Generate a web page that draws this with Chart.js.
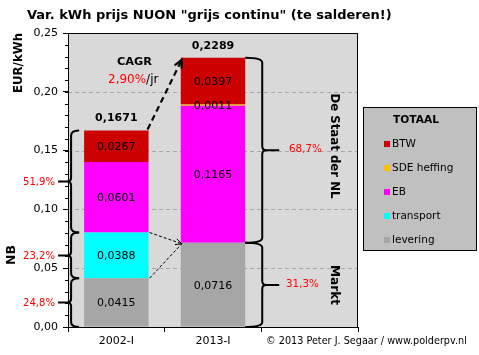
<!DOCTYPE html>
<html><head><meta charset="utf-8">
<script src="https://cdn.jsdelivr.net/npm/chart.js@4/dist/chart.umd.min.js"></script>
<style>html,body{margin:0;padding:0;background:#fff}#w{width:479px;height:355px}</style>
</head><body><div id="w"><canvas id="c" width="479" height="355"></canvas></div>
<script>
const categories = ['2002-I', '2013-I', ''];
const levering  = [0.0415, 0.0716, null];
const transport = [0.0388, 0,      null];
const eb        = [0.0601, 0.1165, null];
const sde       = [0,      0.0011, null];
const btw       = [0.0267, 0.0397, null];
const totals    = [0.1671, 0.2289];
const leftShares  = ['24,8%', '23,2%', '51,9%'];
const rightShares = ['31,3%', '68,7%'];
const cagr = '2,90%';
const seriesNames = ['levering', 'transport', 'EB', 'SDE heffing', 'BTW'];
const seriesColors = ['#a6a6a6', '#00ffff', '#ff00ff', '#ffc000', '#cc0000'];

const FAM = '"DejaVu Sans", Verdana, sans-serif';
Chart.defaults.font.family = FAM;
Chart.defaults.color = '#000';

function fmt(v, d) { return v.toFixed(d).replace('.', ','); }
function fitText(ctx, text, weight, target, base) {
  ctx.font = weight + ' ' + base + 'px ' + FAM;
  const w = ctx.measureText(text).width;
  const s = base * target / w;
  ctx.font = weight + ' ' + s.toFixed(2) + 'px ' + FAM;
  return s;
}
function brace(ctx, x, y1, y2, dir, endLen, tipLen) {
  const mid = (y1 + y2) / 2, r = 5, r2 = 4;
  ctx.beginPath();
  ctx.moveTo(x - dir * endLen, y1);
  ctx.quadraticCurveTo(x, y1, x, y1 + r);
  ctx.lineTo(x, mid - r2);
  ctx.quadraticCurveTo(x, mid, x + dir * 4, mid);
  ctx.lineTo(x + dir * tipLen, mid);
  ctx.moveTo(x + dir * 4, mid);
  ctx.quadraticCurveTo(x, mid, x, mid + r2);
  ctx.lineTo(x, y2 - r);
  ctx.quadraticCurveTo(x, y2, x - dir * endLen, y2);
  ctx.stroke();
}
function arrow(ctx, x1, y1, x2, y2, lw, dash, head) {
  ctx.save();
  ctx.lineWidth = lw; ctx.strokeStyle = '#000';
  ctx.setLineDash(dash);
  ctx.beginPath(); ctx.moveTo(x1, y1); ctx.lineTo(x2, y2); ctx.stroke();
  ctx.setLineDash([]);
  const a = Math.atan2(y2 - y1, x2 - x1);
  ctx.beginPath();
  ctx.moveTo(x2 - head * Math.cos(a - 0.45), y2 - head * Math.sin(a - 0.45));
  ctx.lineTo(x2, y2);
  ctx.lineTo(x2 - head * Math.cos(a + 0.45), y2 - head * Math.sin(a + 0.45));
  ctx.stroke();
  ctx.restore();
}

const deco = {
  id: 'deco',
  beforeDraw(chart) {
    const {ctx, chartArea: a} = chart;
    ctx.save();
    ctx.fillStyle = '#fff'; ctx.fillRect(0, 0, chart.width, chart.height);
    ctx.fillStyle = '#d9d9d9'; ctx.fillRect(a.left, a.top, a.right - a.left, a.bottom - a.top);
    ctx.restore();
  },
  beforeDatasetsDraw(chart) {
    const {ctx, chartArea: a, scales: {y}} = chart;
    ctx.save();
    ctx.strokeStyle = '#a8a8a8'; ctx.lineWidth = 1; ctx.setLineDash([4, 3]);
    y.ticks.forEach(t => {
      if (t.value <= 0 || t.value >= 0.25) return;
      const py = Math.round(y.getPixelForValue(t.value)) + 0.5;
      ctx.beginPath(); ctx.moveTo(a.left, py); ctx.lineTo(a.right, py); ctx.stroke();
    });
    ctx.restore();
  },
  afterDatasetsDraw(chart) {
    const {ctx, chartArea: a, scales: {x, y}} = chart;
    ctx.save();
    ctx.strokeStyle = '#000'; ctx.lineWidth = 1;
    ctx.strokeRect(a.left + 0.5, a.top + 0.5, a.right - a.left - 1, a.bottom - a.top);
    for (let v = 0.01; v < 0.25; v += 0.01) {
      const py = Math.round(y.getPixelForValue(v)) + 0.5;
      ctx.beginPath(); ctx.moveTo(a.left - 3, py); ctx.lineTo(a.left, py); ctx.stroke();
    }
    ctx.textAlign = 'center'; ctx.textBaseline = 'middle';
    ctx.fillStyle = '#000';
    chart.data.datasets.forEach((ds, i) => {
      const meta = chart.getDatasetMeta(i);
      ds.data.forEach((v, j) => {
        if (!v) return;
        const el = meta.data[j];
        ctx.font = '11px ' + FAM;
        ctx.fillText(fmt(v, 4), el.x, (el.y + el.base) / 2 + 1);
      });
    });
    const top = chart.getDatasetMeta(4).data;
    totals.forEach((t, j) => {
      ctx.font = 'bold 11px ' + FAM;
      ctx.fillText(fmt(t, 4), top[j].x, y.getPixelForValue(t) - 12);
    });
    const b1 = chart.getDatasetMeta(0).data[0], b2 = chart.getDatasetMeta(0).data[1];
    const b1L = b1.x - b1.width / 2, b1R = b1.x + b1.width / 2;
    const b2L = b2.x - b2.width / 2, b2R = b2.x + b2.width / 2;
    const py = v => y.getPixelForValue(v);
    ctx.lineWidth = 2; ctx.strokeStyle = '#000';
    const lb = [0, levering[0], levering[0] + transport[0], totals[0]];
    const lx = b1L - 13;
    ctx.fillStyle = '#ff0000';
    ctx.textAlign = 'right';
    for (let k = 0; k < 3; k++) {
      brace(ctx, lx, py(lb[k + 1]), py(lb[k]), -1, 8, 13);
      fitText(ctx, leftShares[k], 'normal', 32, 11);
      ctx.fillText(leftShares[k], 55, (py(lb[k + 1]) + py(lb[k])) / 2 + 1);
    }
    const rb = [0, levering[1], totals[1]];
    const rx = b2R + 17;
    ctx.textAlign = 'left';
    const rlx = [286, 289];
    for (let k = 0; k < 2; k++) {
      brace(ctx, rx, py(rb[k + 1]), py(rb[k]), 1, 17, 17);
      fitText(ctx, rightShares[k], 'normal', 33, 11);
      ctx.fillText(rightShares[k], rlx[k], (py(rb[k + 1]) + py(rb[k])) / 2 - 1);
    }
    arrow(ctx, b1R - 1, py(totals[0]) - 1, b2L + 1, py(totals[1]) + 2, 2.2, [6, 4], 9);
    arrow(ctx, b1R + 1, py(levering[0] + transport[0]), b2L + 1, py(levering[1]) + 1, 1, [3, 2], 7);
    arrow(ctx, b1R + 1, py(levering[0]), b2L + 1, py(levering[1]) + 1, 1, [3, 2], 0.1);
    ctx.fillStyle = '#000'; ctx.textAlign = 'left';
    fitText(ctx, 'CAGR', 'bold', 35, 11);
    ctx.fillText('CAGR', 117, 62);
    ctx.font = '12px ' + FAM;
    ctx.fillStyle = '#ff0000';
    ctx.fillText(cagr, 108, 80);
    const cw = ctx.measureText(cagr).width;
    ctx.fillStyle = '#000';
    ctx.fillText('/jr', 108 + cw, 80);
    ctx.restore();
  },
  afterDraw(chart) {
    const {ctx} = chart;
    ctx.save();
    ctx.fillStyle = '#000';
    ctx.textBaseline = 'middle'; ctx.textAlign = 'left';
    fitText(ctx, 'Var. kWh prijs NUON "grijs continu" (te salderen!)', 'bold', 365, 13);
    ctx.fillText('Var. kWh prijs NUON "grijs continu" (te salderen!)', 27, 16);
    fitText(ctx, '\u00a9 2013 Peter J. Segaar / www.polderpv.nl', 'normal', 201, 10);
    ctx.fillText('\u00a9 2013 Peter J. Segaar / www.polderpv.nl', 266, 341);
    const rot = (t, cx, cy, ang, len, size) => {
      ctx.save(); ctx.translate(cx, cy); ctx.rotate(ang);
      ctx.textAlign = 'center';
      fitText(ctx, t, 'bold', len, size);
      ctx.fillText(t, 0, 0); ctx.restore();
    };
    rot('EUR/kWh', 19, 63, -Math.PI / 2, 60, 11);
    rot('NB', 12, 255, -Math.PI / 2, 20, 14);
    rot('De Staat der NL', 334, 146, Math.PI / 2, 105, 13);
    rot('Markt', 334, 285, Math.PI / 2, 40, 13);
    ctx.fillStyle = '#c0c0c0';
    ctx.fillRect(363, 107, 114, 144);
    ctx.strokeStyle = '#000'; ctx.lineWidth = 1;
    ctx.strokeRect(363.5, 107.5, 113, 143);
    ctx.fillStyle = '#000';
    fitText(ctx, 'TOTAAL', 'bold', 46, 11);
    ctx.fillText('TOTAAL', 393, 120);
    const ys = [240, 216, 192, 168, 144];
    for (let i = 0; i < 5; i++) {
      ctx.fillStyle = seriesColors[i];
      ctx.fillRect(384, ys[i] - 3, 6, 6);
      ctx.fillStyle = '#000';
      ctx.font = '10.5px ' + FAM;
      ctx.fillText(seriesNames[i], 392, ys[i]);
    }
    ctx.restore();
  }
};

const seriesData = [levering, transport, eb, sde, btw];
new Chart(document.getElementById('c'), {
  type: 'bar',
  data: {
    labels: categories,
    datasets: seriesData.map((d, i) => ({
      label: seriesNames[i], data: d, backgroundColor: seriesColors[i],
      borderWidth: 0, barPercentage: 0.667, categoryPercentage: 1.0
    }))
  },
  options: {
    responsive: false, animation: false, devicePixelRatio: 1,
    layout: {padding: {top: 33, right: 121, left: 0, bottom: 0}},
    plugins: {legend: {display: false}, title: {display: false}, tooltip: {enabled: false}},
    scales: {
      x: {
        stacked: true,
        grid: {offset: true, drawOnChartArea: false, drawTicks: true, tickLength: 5, tickColor: '#000'},
        border: {color: '#000', width: 1},
        ticks: {font: {size: 11}, color: '#000', padding: 3, maxRotation: 0},
        afterFit(s) { s.height = 28; }
      },
      y: {
        stacked: true, min: 0, max: 0.25,
        grid: {drawOnChartArea: false, drawTicks: true, tickLength: 5, tickColor: '#000'},
        border: {color: '#000', width: 1},
        ticks: {stepSize: 0.05, font: {size: 11}, color: '#000', padding: 5,
          callback: v => fmt(v, 2)},
        afterFit(s) { s.width = 68; }
      }
    }
  },
  plugins: [deco]
});
</script></body></html>
